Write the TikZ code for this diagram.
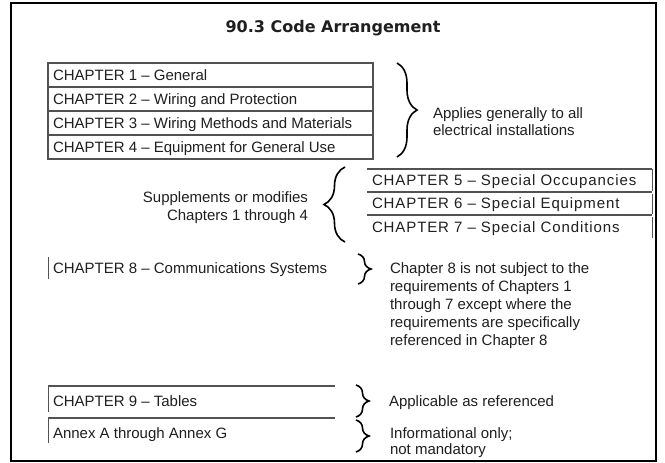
\documentclass[tikz,border=0pt]{standalone}
\usepackage{fontspec}
\setmainfont{Liberation Sans}
\newfontfamily\titlefont{DejaVu Sans}
\usetikzlibrary{decorations.pathreplacing}
\begin{document}
\begin{tikzpicture}[x=1pt,y=-1pt,
  txt/.style={inner sep=0pt, outer sep=0pt, text=black!88},
  chap/.style={txt, anchor=west, font=\fontsize{15}{18}\selectfont, text height=10.7pt, text depth=0pt},
  widechap/.style={chap, font=\fontsize{15}{18}\selectfont\addfontfeatures{LetterSpace=6}},
  note/.style={txt, align=left, anchor=north west},
  boxline/.style={draw=black!68, line width=1.4pt},
  sideline/.style={draw=black!68, line width=1pt},
  bracestyle/.style={draw=black, line width=1.6pt, decorate, decoration={brace, amplitude=#1}},
]
\useasboundingbox (0,0) rectangle (665,463);
\draw[line width=1.5pt] (11,3) rectangle (656,461);

\node[txt, font=\titlefont\fontsize{16}{20}\selectfont\bfseries] (title) at (333,28) {90.3 Code Arrangement};

% Chapters 1-4
\draw[boxline] (48,63) rectangle (373,87);
\draw[boxline] (48,87) rectangle (373,111);
\draw[boxline] (48,111) rectangle (373,135);
\draw[boxline] (48,135) rectangle (373,159);
\node[chap] (c1) at (53,75) {CHAPTER 1 -- General};
\node[chap] (c2) at (53,99) {CHAPTER 2 -- Wiring and Protection};
\node[chap] (c3) at (53,123) {CHAPTER 3 -- Wiring Methods and Materials};
\node[chap] (c4) at (53,147) {CHAPTER 4 -- Equipment for General Use};
\coordinate (b1s) at (397,63);
\coordinate (b1e) at (397,157);
\draw[bracestyle=20pt] (b1s) -- (b1e);
\node[note, font=\fontsize{15}{17}\selectfont] (n1) at (433,107.6) {Applies generally to all\\electrical installations};

% Chapters 5-7
\draw[boxline] (367,169) -- (652,169);
\draw[boxline] (367,192) -- (652,192);
\draw[boxline] (367,215) -- (652,215);
\draw[sideline] (652,169) -- (652,190.5);
\draw[sideline] (652,193.5) -- (652,213.5);
\draw[sideline] (652,216.5) -- (652,238);
\node[widechap] (c5) at (372,180) {CHAPTER 5 -- Special Occupancies};
\node[widechap] (c6) at (372,203.5) {CHAPTER 6 -- Special Equipment};
\node[widechap] (c7) at (372,227) {CHAPTER 7 -- Special Conditions};
\coordinate (b2s) at (345,242);
\coordinate (b2e) at (345,167);
\draw[bracestyle=21pt] (b2s) -- (b2e);
\node[txt, align=right, anchor=north east, font=\fontsize{15}{18}\selectfont] (n2) at (308,191.6) {Supplements or modifies\\Chapters 1 through 4};

% Chapter 8
\draw[sideline] (48,257) -- (48,279);
\node[chap] (c8) at (53,268) {CHAPTER 8 -- Communications Systems};
\coordinate (b3s) at (358,254);
\coordinate (b3e) at (358,284);
\draw[bracestyle=13pt] (b3s) -- (b3e);
\node[note, font=\fontsize{15}{18}\selectfont] (n3) at (390,262.6) {Chapter 8 is not subject to the\\requirements of Chapters 1\\through 7 except where the\\requirements are specifically\\referenced in Chapter 8};

% Chapter 9
\draw[boxline] (48,386) -- (335,386);
\draw[sideline] (48,386) -- (48,412);
\node[chap] (c9) at (53,401) {CHAPTER 9 -- Tables};
\coordinate (b4s) at (356,385);
\coordinate (b4e) at (356,417);
\draw[bracestyle=13pt] (b4s) -- (b4e);
\node[chap] (n4) at (389,401) {Applicable as referenced};

% Annexes
\draw[boxline] (48,418) -- (335,418);
\draw[sideline] (48,418) -- (48,443);
\node[chap] (ax) at (53,433) {Annex A through Annex G};
\coordinate (b5s) at (356,420);
\coordinate (b5e) at (356,452);
\draw[bracestyle=13pt] (b5s) -- (b5e);
\node[note, font=\fontsize{15}{15.5}\selectfont] (n5) at (390,428) {Informational only;\\not mandatory};
\end{tikzpicture}
\end{document}
